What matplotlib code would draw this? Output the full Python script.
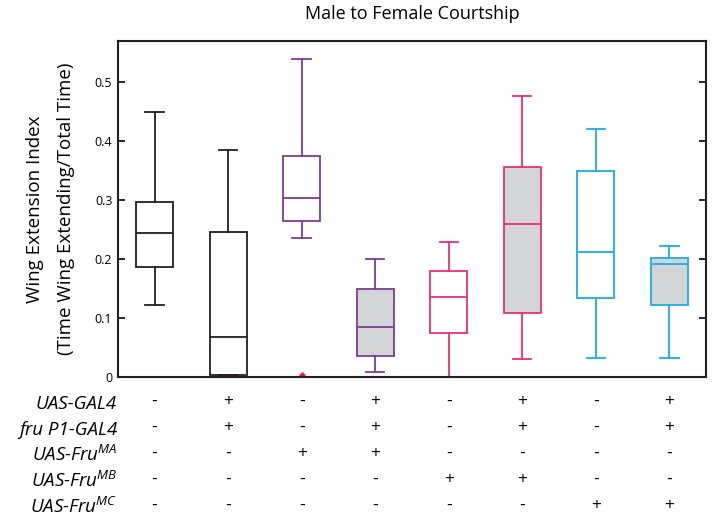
import matplotlib
matplotlib.use("Agg")
import matplotlib.pyplot as plt
from matplotlib.transforms import blended_transform_factory

plt.rcParams["font.family"] = ["Open Sans", "DejaVu Sans"]
plt.rcParams["mathtext.fontset"] = "custom"
plt.rcParams["mathtext.it"] = "Open Sans:italic"
plt.rcParams["mathtext.rm"] = "Open Sans"

# box statistics (whislo, q1, med, q3, whishi)
whislo = [0.122, 0.003, 0.236, 0.008, 0.000, 0.030, 0.032, 0.033]
q1 = [0.186, 0.004, 0.264, 0.036, 0.074, 0.108, 0.134, 0.122]
med = [0.245, 0.068, 0.303, 0.085, 0.136, 0.259, 0.212, 0.192]
q3 = [0.297, 0.246, 0.375, 0.150, 0.180, 0.356, 0.349, 0.202]
whishi = [0.450, 0.385, 0.539, 0.200, 0.229, 0.476, 0.421, 0.222]
fliers = [[], [], [0.003], [], [], [], [], []]
filled = [False, False, False, True, False, True, False, True]
colors = ["#231f20", "#231f20", "#7d3c98", "#7d3c98",
          "#ec2d7a", "#ec2d7a", "#1aaee5", "#1aaee5"]

row_labels = ["UAS-GAL4", "fru P1-GAL4", "UAS-Fru$^{MA}$",
              "UAS-Fru$^{MB}$", "UAS-Fru$^{MC}$"]
genotype = [
    ["-", "+", "-", "+", "-", "+", "-", "+"],
    ["-", "+", "-", "+", "-", "+", "-", "+"],
    ["-", "-", "+", "+", "-", "-", "-", "-"],
    ["-", "-", "-", "-", "+", "+", "-", "-"],
    ["-", "-", "-", "-", "-", "-", "+", "+"],
]

fig = plt.figure(figsize=(7.14, 5.24), dpi=100)
ax = fig.add_axes([0.165, 0.2805, 0.824, 0.6415])

for i in range(len(med)):
    stats = [{"whislo": whislo[i], "q1": q1[i], "med": med[i], "q3": q3[i],
              "whishi": whishi[i], "fliers": fliers[i]}]
    c = colors[i]
    ax.bxp(stats, positions=[i + 1], widths=0.5, patch_artist=True,
           boxprops=dict(facecolor="#d3d4d6" if filled[i] else "white",
                         edgecolor=c, linewidth=1.3),
           medianprops=dict(color=c, linewidth=1.3),
           whiskerprops=dict(color=c, linewidth=1.3),
           capprops=dict(color=c, linewidth=1.3),
           capwidths=0.25,
           flierprops=dict(marker="+", markeredgecolor="#e8202a",
                           markersize=5, markeredgewidth=2))

ax.set_xlim(0.5, 8.5)
ax.set_ylim(0, 0.57)
ax.set_yticks([0, 0.1, 0.2, 0.3, 0.4, 0.5])
ax.set_yticklabels(["0", "0.1", "0.2", "0.3", "0.4", "0.5"])
ax.set_xticks([])
ax.tick_params(axis="y", direction="in", right=True, length=5, width=1.2,
               labelsize=9, pad=4)
for s in ax.spines.values():
    s.set_linewidth(1.5)
    s.set_color("#231f20")

ax.set_title("Male to Female Courtship", fontsize=13, pad=16)
fig.text(0.049, 0.601, "Wing Extension Index", rotation=90, ha="center",
         va="center", fontsize=13.5)
fig.text(0.092, 0.601, "(Time Wing Extending/Total Time)", rotation=90,
         ha="center", va="center", fontsize=13.5)

trans = blended_transform_factory(ax.transData, fig.transFigure)
label_base = [409, 435, 461, 487, 513]
for r, label in enumerate(row_labels):
    yb = 1 - label_base[r] / 524
    yc = 1 - (label_base[r] - 7) / 524
    fig.text(0.164, yb, label, ha="right", va="baseline", fontsize=13.5,
             style="italic")
    for j, sym in enumerate(genotype[r]):
        ax.text(j + 1, yc, sym, transform=trans, ha="center", va="center",
                fontsize=12.5)

fig.savefig("out.png", dpi=100)
